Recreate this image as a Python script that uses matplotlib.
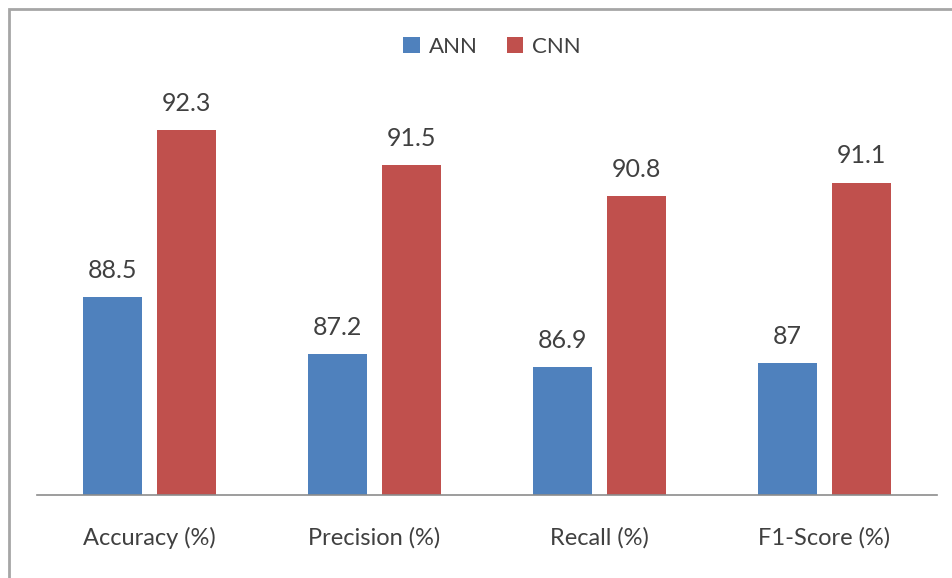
import matplotlib
matplotlib.use("Agg")
import matplotlib.pyplot as plt
from matplotlib.patches import Rectangle
import numpy as np

categories = ["Accuracy (%)", "Precision (%)", "Recall (%)", "F1-Score (%)"]
ann = [88.5, 87.2, 86.9, 87]
cnn = [92.3, 91.5, 90.8, 91.1]

blue = "#4f81bd"
red = "#c0504d"
text_col = "#404040"

plt.rcParams["font.family"] = ["Lato", "DejaVu Sans"]

W, H = 952, 578
fig = plt.figure(figsize=(W / 100, H / 100), dpi=100)
ax = fig.add_axes([37 / W, 1 - 495 / H, 900 / W, 440 / H])

x = np.arange(len(categories))
bw = 0.262
off = 0.166
b1 = ax.bar(x - off, ann, bw, bottom=0, color=blue, label="ANN")
b2 = ax.bar(x + off, cnn, bw, bottom=0, color=red, label="CNN")

ax.set_xlim(-0.5, 3.5)
ax.set_ylim(84, 94)

for bars, vals in ((b1, ann), (b2, cnn)):
    for rect, v in zip(bars, vals):
        ax.annotate(f"{v:g}", (rect.get_x() + rect.get_width() / 2, v),
                    xytext=(0, 11), textcoords="offset points",
                    ha="center", va="bottom", fontsize=18, color=text_col)

ax.set_xticks(x)
ax.set_xticklabels(categories, fontsize=17, color=text_col)
ax.tick_params(axis="x", length=0, pad=23)
ax.set_yticks([])
for s in ("top", "right", "left"):
    ax.spines[s].set_visible(False)
ax.spines["bottom"].set_color("#8c8c8c")
ax.spines["bottom"].set_linewidth(1.2)

leg = fig.legend(loc="center", bbox_to_anchor=(492 / W, 1 - 47 / H), ncol=2,
                 frameon=False, fontsize=16, handlelength=0.75, handleheight=0.75,
                 handletextpad=0.4, columnspacing=1.3)
for t in leg.get_texts():
    t.set_color(text_col)

# outer chart frame
fig.patches.append(Rectangle((9 / W, -0.1), 1.2, 1 - 9 / H + 0.1,
                             transform=fig.transFigure, fill=False,
                             edgecolor="#a6a6a6", linewidth=2))

fig.savefig("out.png", dpi=100)
